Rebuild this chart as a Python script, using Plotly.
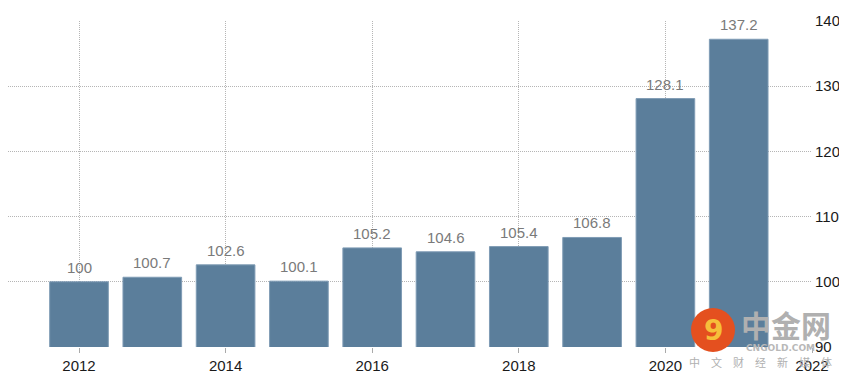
import plotly.graph_objects as go

years = [2012, 2013, 2014, 2015, 2016, 2017, 2018, 2019, 2020, 2021]
values = [100, 100.7, 102.6, 100.1, 105.2, 104.6, 105.4, 106.8, 128.1, 137.2]
labels = ["100", "100.7", "102.6", "100.1", "105.2", "104.6", "105.4", "106.8", "128.1", "137.2"]
x_ticks = [2012, 2014, 2016, 2018, 2020, 2022]
y_ticks = [90, 100, 110, 120, 130, 140]

FONT = "Liberation Sans"
OFF = 8  # default page body margin offset

# target page geometry: plot area x 0..812, y 21..347
L_PAGE, R_PAGE, T_PAGE, B_PAGE = OFF, 812, 21, 347
px_per_year = (812 - 79) / (2022 - 2012)
x_left = 2012 - (79 - L_PAGE) / px_per_year

fig = go.Figure()
fig.add_trace(go.Bar(
    x=years, y=values,
    marker=dict(color="#5b7e9b", line=dict(color="#7f9cb5", width=1)),
    width=0.8,
))
for yr, v, lab in zip(years, values, labels):
    fig.add_annotation(x=yr, y=v, text=lab, showarrow=False, xanchor="center", yanchor="bottom",
                       yshift=4, font=dict(family=FONT, size=15, color="#7a7a7a"))

grid = dict(showgrid=True, gridcolor="#b5b5b5", gridwidth=1, griddash="1px,1px")
fig.update_layout(
    width=847, height=380,
    margin=dict(l=L_PAGE - OFF, r=847 - (R_PAGE - OFF), t=T_PAGE - OFF, b=380 - (B_PAGE - OFF),
                autoexpand=False),
    plot_bgcolor="white", paper_bgcolor="white",
    showlegend=False,
    xaxis=dict(range=[x_left, 2022], tickvals=x_ticks, ticktext=[str(t) for t in x_ticks],
               ticks="outside", ticklen=5, tickcolor="#aaaaaa", automargin=False,
               tickfont=dict(family=FONT, size=15, color="#1a1a1a"),
               zeroline=False, **grid),
    yaxis=dict(range=[90, 140], tickvals=y_ticks, side="right", automargin=False,
               ticklabelstandoff=2,
               tickfont=dict(family=FONT, size=15, color="#1a1a1a"),
               zeroline=False, **grid),
    bargap=0.2,
)

# watermark, positioned in page pixels
def px(xp):
    return (xp - L_PAGE) / (R_PAGE - L_PAGE)

def py(yp):
    return (B_PAGE - yp) / (B_PAGE - T_PAGE)

fig.add_shape(type="circle", xref="paper", yref="paper",
              x0=px(691), x1=px(735), y0=py(352), y1=py(308),
              line=dict(width=0), fillcolor="#e4501f", layer="above")
common = dict(xref="paper", yref="paper", showarrow=False, xanchor="center", yanchor="middle")
fig.add_annotation(text="<b>9</b>", x=px(713), y=py(330),
                   font=dict(family="DejaVu Sans", size=28, color="#f6bf3a"), **common)
fig.add_annotation(text="<b>中金网</b>", x=px(786), y=py(324),
                   font=dict(family="Noto Sans CJK SC", size=30, color="#b0b0b0"), **common)
fig.add_annotation(text="<b>CNGOLD.COM</b>", x=px(780), y=py(348),
                   font=dict(family="DejaVu Sans", size=9, color="#b8b8b8"), **common)
fig.add_annotation(text="中　文　财　经　新　媒　体", x=px(760), y=py(362),
                   font=dict(family="Noto Sans CJK SC", size=11, color="#b0b0b0"), **common)

fig.write_html("out.html")
